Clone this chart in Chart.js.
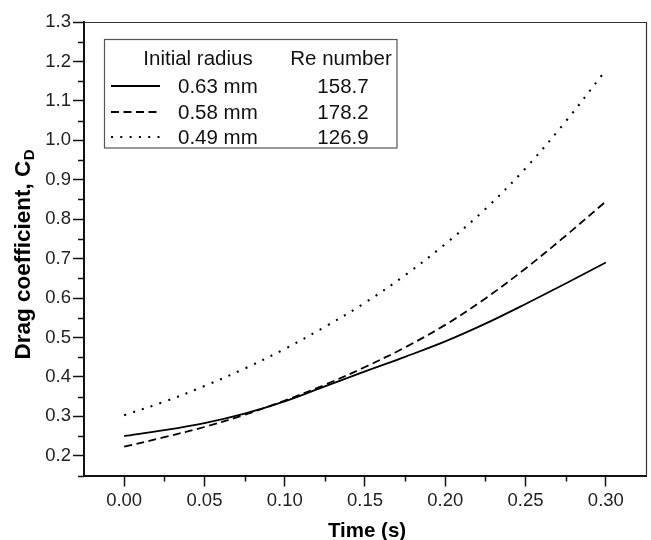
<!DOCTYPE html>
<html>
<head>
<meta charset="utf-8">
<title>Drag coefficient vs time</title>
<script src="https://cdn.jsdelivr.net/npm/chart.js@4.4.1/dist/chart.umd.min.js"></script>
<style>
  html, body { margin: 0; padding: 0; background: #fff; }
  #wrap { position: relative; width: 651px; height: 540px; }
</style>
</head>
<body>
<div id="wrap"><canvas id="chart"></canvas></div>
<script>
// ---------- data ----------
const TIME = [0, 0.025, 0.05, 0.075, 0.1, 0.125, 0.15, 0.175, 0.2, 0.225, 0.25, 0.275, 0.3];
const CD_063 = [0.250, 0.265, 0.283, 0.307, 0.338, 0.376, 0.414, 0.451, 0.490, 0.535, 0.585, 0.637, 0.690];
const CD_058 = [0.223, 0.247, 0.273, 0.304, 0.340, 0.380, 0.425, 0.475, 0.532, 0.599, 0.675, 0.758, 0.845];
const CD_049 = [0.303, 0.337, 0.377, 0.421, 0.471, 0.527, 0.588, 0.658, 0.737, 0.826, 0.929, 1.048, 1.178];

const RADII = ["0.63 mm", "0.58 mm", "0.49 mm"];
const RE_NUMBERS = ["158.7", "178.2", "126.9"];

const X_TICKS = [0, 0.05, 0.1, 0.15, 0.2, 0.25, 0.3];
const X_MINOR = [0.025, 0.075, 0.125, 0.175, 0.225, 0.275];
const Y_TICKS = [0.2, 0.3, 0.4, 0.5, 0.6, 0.7, 0.8, 0.9, 1.0, 1.1, 1.2, 1.3];
const Y_MINOR = [0.15, 0.25, 0.35, 0.45, 0.55, 0.65, 0.75, 0.85, 0.95, 1.05, 1.15, 1.25];

// ---------- helpers ----------
const $ = (s, p = document) => p.querySelector(s);
const FONT = "'Liberation Sans', Arial, Helvetica, sans-serif";
const pts = (ys) => TIME.map((t, i) => ({ x: t, y: ys[i] }));

// minor ticks, drawn through the scales
const minorTicks = {
  id: "minorTicks",
  afterDraw(chart) {
    const { ctx, chartArea: a, scales: { x, y } } = chart;
    ctx.save();
    ctx.strokeStyle = "#111";
    ctx.lineWidth = 1.5;
    ctx.beginPath();
    X_MINOR.forEach((v) => {
      const px = Math.round(x.getPixelForValue(v)) + 0.5;
      ctx.moveTo(px, a.bottom);
      ctx.lineTo(px, a.bottom + 6);
    });
    Y_MINOR.forEach((v) => {
      const py = Math.round(y.getPixelForValue(v)) + 0.5;
      ctx.moveTo(a.left, py);
      ctx.lineTo(a.left - 6, py);
    });
    ctx.stroke();
    ctx.restore();
  },
};

// thin top / right frame
const frame = {
  id: "frame",
  beforeDatasetsDraw(chart) {
    const { ctx, chartArea: a } = chart;
    ctx.save();
    ctx.strokeStyle = "#333";
    ctx.lineWidth = 1.2;
    ctx.beginPath();
    ctx.moveTo(a.left, a.top + 0.5);
    ctx.lineTo(a.right + 0.5, a.top + 0.5);
    ctx.lineTo(a.right + 0.5, a.bottom);
    ctx.stroke();
    ctx.restore();
  },
};

// axis titles (y title has a subscript)
const titles = {
  id: "titles",
  afterDraw(chart) {
    const { ctx, chartArea: a } = chart;
    ctx.save();
    ctx.fillStyle = "#000";
    ctx.textBaseline = "middle";
    ctx.textAlign = "center";
    ctx.font = "bold 20.5px " + FONT;
    ctx.fillText("Time (s)", (a.left + a.right) / 2 + 2, 531);

    const main = "Drag coefficient, C";
    const sub = "D";
    ctx.translate(24, (a.top + a.bottom) / 2 + 6);
    ctx.rotate(-Math.PI / 2);
    ctx.font = "bold 22.5px " + FONT;
    const w1 = ctx.measureText(main).width;
    ctx.font = "bold 15px " + FONT;
    const w2 = ctx.measureText(sub).width;
    const x0 = -(w1 + w2) / 2;
    ctx.textAlign = "left";
    ctx.font = "bold 22.5px " + FONT;
    ctx.fillText(main, x0, 0);
    ctx.font = "bold 15px " + FONT;
    ctx.fillText(sub, x0 + w1 + 0.5, 6);
    ctx.restore();
  },
};

// framed table legend
const legendBox = {
  id: "legendBox",
  afterDraw(chart) {
    const { ctx } = chart;
    ctx.save();
    ctx.strokeStyle = "#555";
    ctx.lineWidth = 1.2;
    ctx.strokeRect(104.5, 39.5, 292.5, 108.5);
    ctx.fillStyle = "#111";
    ctx.font = "20.5px " + FONT;
    ctx.textBaseline = "middle";
    ctx.textAlign = "center";
    ctx.fillText("Initial radius", 198, 59);
    ctx.fillText("Re number", 341, 59);
    const rowsY = [86, 112, 137];
    chart.data.datasets.forEach((ds, i) => {
      const y = rowsY[i];
      ctx.save();
      ctx.strokeStyle = ds.borderColor;
      ctx.lineWidth = ds.borderWidth;
      ctx.setLineDash(ds.borderDash || []);
      ctx.beginPath();
      ctx.moveTo(111, y);
      ctx.lineTo(160, y);
      ctx.stroke();
      ctx.restore();
      ctx.textAlign = "left";
      ctx.fillText(RADII[i], 178, y + 1);
      ctx.textAlign = "center";
      ctx.fillText(RE_NUMBERS[i], 343, y + 1);
    });
    ctx.restore();
  },
};

// ---------- initial ----------
document.addEventListener("DOMContentLoaded", () => {
  const series = [
    { data: CD_063, dash: [], width: 1.8 },
    { data: CD_058, dash: [8, 4.5], width: 1.8 },
    { data: CD_049, dash: [2, 7.3], width: 2.1 },
  ];

  new Chart($("#chart"), {
    type: "line",
    data: {
      datasets: series.map((s, i) => ({
        label: RADII[i],
        data: pts(s.data),
        borderColor: "#000",
        borderWidth: s.width,
        borderDash: s.dash,
        pointRadius: 0,
        fill: false,
        tension: 0.35,
      })),
    },
    options: {
      responsive: true,
      maintainAspectRatio: false,
      animation: false,
      layout: { padding: { top: 22, right: 5, left: 0, bottom: 0 } },
      plugins: { legend: { display: false }, tooltip: { enabled: false } },
      scales: {
        x: {
          type: "linear",
          min: -0.025,
          max: 0.325,
          afterBuildTicks: (s) => {
            s.ticks = X_TICKS.map((v) => ({ value: v }));
          },
          afterFit: (s) => {
            s.height = 64.5;
          },
          grid: { drawOnChartArea: false, tickLength: 11, tickColor: "#111", tickWidth: 1.5 },
          border: { color: "#111", width: 2 },
          ticks: {
            autoSkip: false,
            maxRotation: 0,
            padding: 3,
            color: "#222",
            font: { family: FONT, size: 18.5 },
            callback: (v) => Number(v).toFixed(2),
          },
        },
        y: {
          min: 0.15,
          max: 1.3,
          afterBuildTicks: (s) => {
            s.ticks = Y_TICKS.map((v) => ({ value: v }));
          },
          afterFit: (s) => {
            s.width = 84;
          },
          grid: { drawOnChartArea: false, tickLength: 11, tickColor: "#111", tickWidth: 1.5 },
          border: { color: "#111", width: 2 },
          ticks: {
            autoSkip: false,
            padding: 2,
            color: "#222",
            font: { family: FONT, size: 18.5 },
            callback: (v) => Number(v).toFixed(1),
          },
        },
      },
    },
    plugins: [minorTicks, frame, titles, legendBox],
  });
});
</script>
</body>
</html>
